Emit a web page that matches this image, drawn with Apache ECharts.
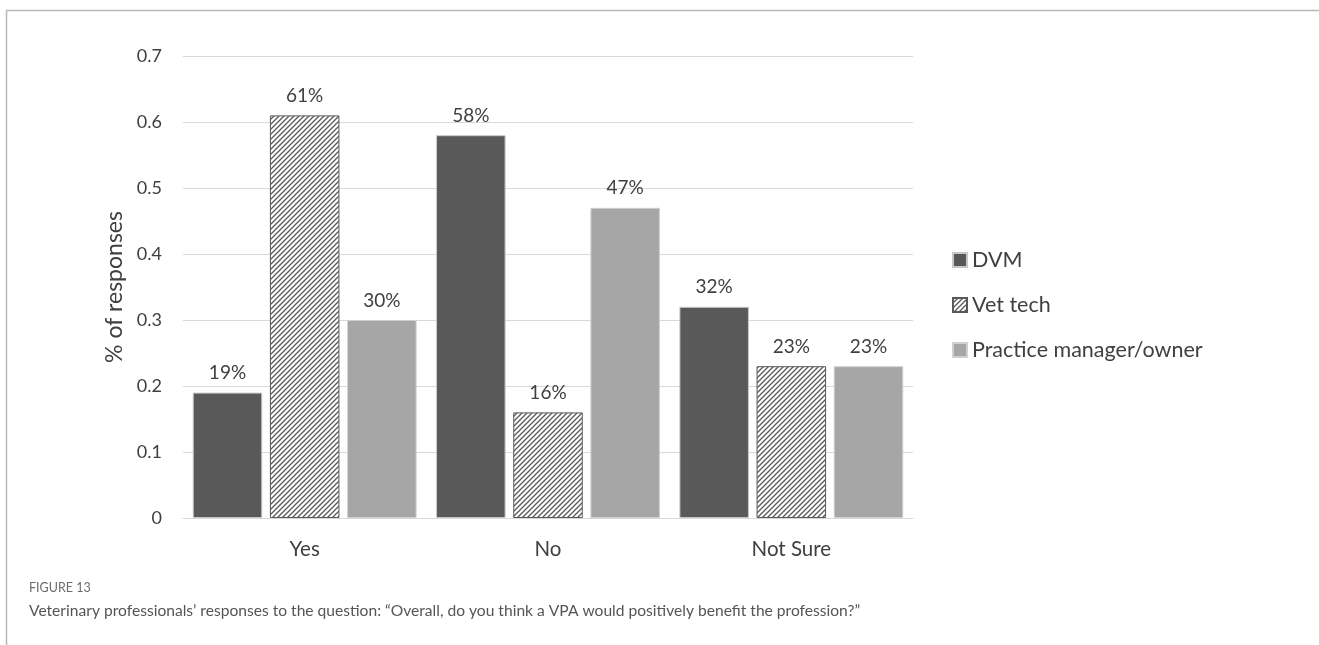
<!DOCTYPE html>
<html>
<head>
<meta charset="utf-8">
<script src="https://cdn.jsdelivr.net/npm/echarts@6/dist/echarts.min.js"></script>
<style>
html,body{margin:0;padding:0;background:#fff;}
#chart{width:1319px;height:645px;}
</style>
</head>
<body>
<div id="chart"></div>
<script>
var categories = ['Yes', 'No', 'Not Sure'];
var seriesNames = ['DVM', 'Vet tech', 'Practice manager/owner'];
var dvm = [0.19, 0.58, 0.32];
var vetTech = [0.61, 0.16, 0.23];
var practice = [0.30, 0.47, 0.23];
var yTicks = [0, 0.1, 0.2, 0.3, 0.4, 0.5, 0.6, 0.7];
var figureLabel = 'FIGURE 13';
var captionText = 'Veterinary professionals\u2019 responses to the question: \u201cOverall, do you think a VPA would positively benefit the profession?\u201d';

function makeHatch() {
  var c = document.createElement('canvas');
  var s = 5;
  c.width = s; c.height = s;
  var ctx = c.getContext('2d');
  ctx.fillStyle = '#ffffff';
  ctx.fillRect(0, 0, s, s);
  ctx.strokeStyle = '#595959';
  ctx.lineWidth = 1.3;
  ctx.beginPath();
  ctx.moveTo(-1, s + 1); ctx.lineTo(s + 1, -1);
  ctx.moveTo(-1, 1); ctx.lineTo(1, -1);
  ctx.moveTo(s - 1, s + 1); ctx.lineTo(s + 1, s - 1);
  ctx.stroke();
  return c;
}
var hatch = makeHatch();

var chart = echarts.init(document.getElementById('chart'), null, {renderer: 'canvas'});
var font = 'Lato, "Open Sans", sans-serif';
var labelCfg = {
  show: true,
  position: 'top',
  distance: 10,
  fontFamily: font,
  fontSize: 19,
  color: '#404040',
  formatter: function (p) { return Math.round(p.value * 100) + '%'; }
};

var option = {
  animation: false,
  backgroundColor: '#ffffff',
  grid: {left: 183, right: 406, top: 56, bottom: 127, containLabel: false},
  legend: {
    orient: 'vertical',
    left: 947,
    top: 244,
    itemGap: 23,
    itemWidth: 14,
    itemHeight: 14,
    icon: 'rect',
    textStyle: {fontFamily: font, fontSize: 21.5, color: '#404040', padding: [0, 0, 0, 0]},
    data: seriesNames
  },
  xAxis: {
    type: 'category',
    data: categories,
    axisLine: {lineStyle: {color: '#d9d9d9', width: 1}},
    axisTick: {show: false},
    axisLabel: {fontFamily: font, fontSize: 20.5, color: '#404040', margin: 21}
  },
  yAxis: {
    type: 'value',
    min: 0,
    max: 0.7,
    interval: 0.1,
    name: '% of responses',
    nameLocation: 'middle',
    nameGap: 46,
    nameTextStyle: {fontFamily: font, fontSize: 23, color: '#404040'},
    axisLine: {show: false},
    axisTick: {show: false},
    splitLine: {lineStyle: {color: '#d9d9d9', width: 1}},
    axisLabel: {
      fontFamily: font, fontSize: 18, color: '#404040', margin: 21,
      formatter: function (v) {
        for (var i = 0; i < yTicks.length; i++) {
          if (Math.abs(yTicks[i] - v) < 1e-6) return String(yTicks[i]);
        }
        return '';
      }
    }
  },
  series: [
    {
      name: seriesNames[0], type: 'bar', data: dvm,
      barGap: '11%', barCategoryGap: '8%',
      itemStyle: {color: '#595959', borderColor: '#c8c8c8', borderWidth: 1},
      label: labelCfg
    },
    {
      name: seriesNames[1], type: 'bar', data: vetTech,
      itemStyle: {color: {image: hatch, repeat: 'repeat'}, borderColor: '#595959', borderWidth: 1},
      label: labelCfg
    },
    {
      name: seriesNames[2], type: 'bar', data: practice,
      itemStyle: {color: '#a6a6a6', borderColor: '#d0d0d0', borderWidth: 1},
      label: labelCfg
    }
  ],
  graphic: [
    {type: 'line', shape: {x1: 6, y1: 10.5, x2: 1319, y2: 10.5}, style: {stroke: '#b8b8b8', lineWidth: 1.5}, silent: true},
    {type: 'line', shape: {x1: 6.5, y1: 10, x2: 6.5, y2: 645}, style: {stroke: '#b8b8b8', lineWidth: 1.5}, silent: true},
    {type: 'text', left: 29, top: 581, style: {text: figureLabel, fontFamily: font, fontSize: 12.5, fill: '#6b6b6b'}},
    {type: 'text', left: 29, top: 603, style: {text: captionText, fontFamily: font, fontSize: 15.6, fill: '#555555'}}
  ]
};
chart.setOption(option);
</script>
</body>
</html>
